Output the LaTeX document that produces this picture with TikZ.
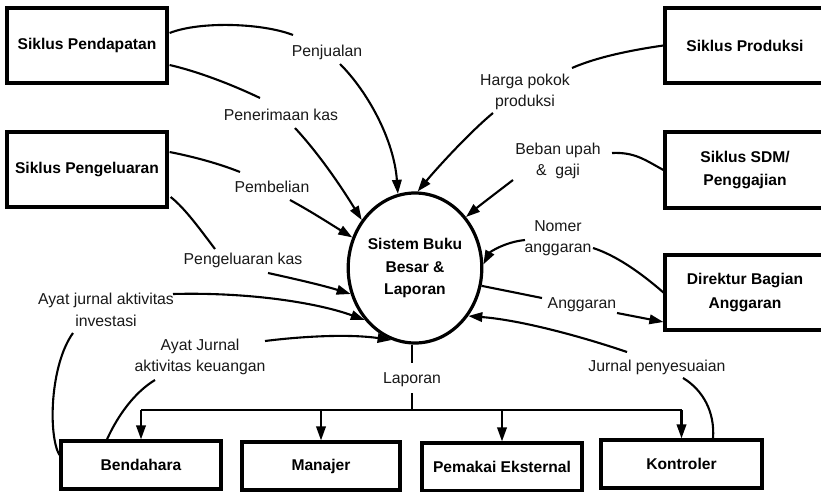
\documentclass[tikz,border=0pt]{standalone}
\usepackage{fontspec}
\setmainfont{Liberation Sans}
\usetikzlibrary{shapes.geometric,arrows.meta,calc}

\begin{document}
\begin{tikzpicture}[x=1pt,y=-1pt,
  ent/.style={draw,line width=3.2pt,minimum width=160pt,inner sep=0pt,
    align=center,text=black,font=\bfseries\fontsize{15.6}{23.5}\selectfont},
  flowlbl/.style={inner sep=0pt,align=center,text=black!90,
    font=\fontsize{15.8}{21.5}\selectfont},
  flow/.style={line width=2.1pt},
  arr/.style={flow,-{Triangle[length=14pt,width=9.5pt]}},
]
\clip (0,0) rectangle (821,492);
\fill[white] (0,0) rectangle (821,492);

% external entities
\node[ent,minimum height=75pt] (pend) at (87,45.5) {Siklus Pendapatan};
\node[ent,minimum height=75pt] (peng) at (87,169.5) {Siklus Pengeluaran};
\node[ent,minimum height=75pt] (prod) at (745,45.5) {Siklus Produksi};
\node[ent,minimum height=76pt] (sdm)  at (745,170) {Siklus SDM/\\Penggajian};
\node[ent,minimum height=75pt] (dir)  at (745,292.5) {Direktur Bagian\\Anggaran};
\node[ent,minimum height=48pt] (bend) at (141,465) {Bendahara};
\node[ent,minimum height=48pt,minimum width=158pt] (man) at (321,466) {Manajer};
\node[ent,minimum height=48pt] (pem)  at (502,467) {Pemakai Eksternal};
\node[ent,minimum height=48pt,minimum width=161pt] (kont) at (681.5,464) {Kontroler};

% central process
\node[draw,ellipse,line width=3.2pt,minimum width=130pt,minimum height=150pt,
  inner sep=0pt,align=center,text=black,
  font=\bfseries\fontsize{15.6}{22.5}\selectfont] (ell) at (415,268)
  {Sistem Buku\\Besar \&\\Laporan};

% flow labels
\node[flowlbl] (lPenj)   at (327,52)  {Penjualan};
\node[flowlbl] (lPener)  at (281,115) {Penerimaan kas};
\node[flowlbl] (lPemb)   at (272,187) {Pembelian};
\node[flowlbl] (lPengk)  at (243,260) {Pengeluaran kas};
\node[flowlbl] (lInv)    at (106,310) {Ayat jurnal aktivitas\\investasi};
\node[flowlbl] (lKeu)    at (200,357) {Ayat Jurnal\\aktivitas keuangan};
\node[flowlbl] (lHarga)  at (525,92)  {Harga pokok\\produksi};
\node[flowlbl] (lBeban)  at (558,161) {Beban upah\\\&\ \ gaji};
\node[flowlbl] (lNomer)  at (558,238) {Nomer\\anggaran};
\node[flowlbl] (lAngg)   at (582,305) {Anggaran};
\node[flowlbl] (lJurnal) at (657,367) {Jurnal penyesuaian};
\node[flowlbl] (lLap)    at (412,380) {Laporan};

% revenue cycle
\draw[flow] ($(pend.east)+(1,-12.5)$) .. controls (200,21) and (262,23) .. ($(lPenj)+(-34,-17)$);
\draw[arr] ($(lPenj)+(13,12)$) .. controls (368,92) and (394,140) .. (ell.103.5);
\draw[flow] ($(pend.east)+(1,19.5)$) .. controls (200,72) and (235,86) .. ($(lPener)+(-21,-17)$);
\draw[arr] ($(lPener)+(14,13)$) .. controls (320,155) and (342,188) .. (ell.138);

% expenditure cycle
\draw[flow] ($(peng.east)+(1,-17.5)$) .. controls (195,157) and (220,164) .. ($(lPemb)+(-32,-15)$);
\draw[arr] ($(lPemb)+(18,13)$) .. controls (312,212) and (332,225) .. (ell.154);
\draw[flow] ($(peng.east)+(2,27.5)$) .. controls (185,208) and (202,232) .. ($(lPengk)+(-28,-11)$);
\draw[arr] ($(lPengk)+(25,13)$) .. controls (300,280) and (325,286) .. (ell.202);

% treasurer
\draw[flow] ($(bend.west)+(0,-10)$) .. controls (48,435) and (50,365) .. ($(lInv)+(-33,23)$);
\draw[arr] ($(lInv)+(67,-16)$) .. controls (250,292) and (318,303) .. (ell.226);
\draw[flow] ($(bend.north)+(-34,0)$) .. controls (118,415) and (135,392) .. ($(lKeu)+(-45,23)$);
\draw[arr] ($(lKeu)+(65,-16)$) .. controls (305,336) and (350,334) .. (ell.252);

% production and payroll cycles
\draw[flow] (prod.west) .. controls (632,50) and (597,57) .. ($(lHarga)+(47,-24)$);
\draw[arr] ($(lHarga)+(-32,21)$) .. controls (470,132) and (437,168) .. (ell.88.5);
\draw[flow] (sdm.west) .. controls (645,160) and (635,152) .. ($(lBeban)+(54,-8)$);
\draw[arr] ($(lBeban)+(-45,19)$) .. controls (496,193) and (479,206) .. (ell.45);

% budget director
\draw[flow] (dir.west) .. controls (640,272) and (615,255) .. ($(lNomer)+(35,10)$);
\draw[arr] ($(lNomer)+(-33,2)$) .. controls (505,242) and (490,252) .. (ell.3);
\draw[flow] (ell.-15) -- ($(lAngg)+(-40,-7)$);
\draw[arr] ($(lAngg)+(35,8)$) -- ($(dir.west)+(0,29.5)$);

% controller
\draw[flow] ($(kont.north)+(31.5,0)$) .. controls (715,412) and (703,390) .. ($(lJurnal)+(26,11)$);
\draw[arr] ($(lJurnal)+(-30,-15)$) .. controls (580,336) and (520,320) .. (ell.-42);

% reports distribution bus
\coordinate (bus) at (412,410);
\draw[flow] (lLap |- ell.south) -- ($(lLap)+(0,-17)$);
\draw[flow] ($(lLap)+(0,13)$) -- (bus);
\draw[flow] (bend.north |- bus) -- (kont.north |- bus);
\foreach \b in {bend,man,pem,kont}
  \draw[arr] (\b.north |- bus) -- (\b.north);
\end{tikzpicture}
\end{document}
